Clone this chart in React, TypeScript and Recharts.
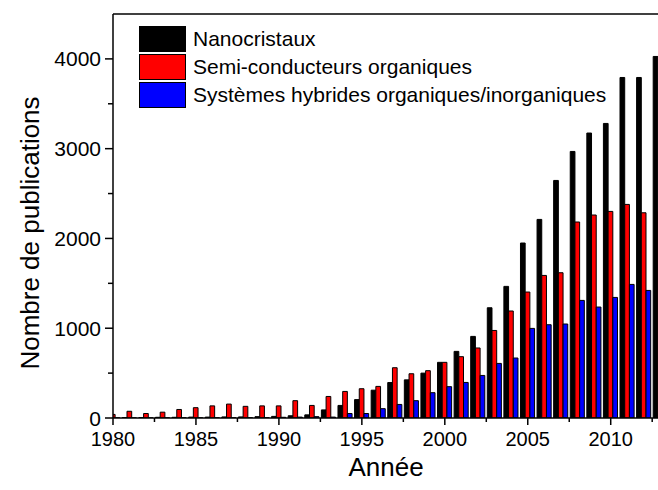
import { BarChart, Bar, XAxis, YAxis, ReferenceLine } from "recharts";

const years = [
  1980, 1981, 1982, 1983, 1984, 1985, 1986, 1987, 1988, 1989, 1990, 1991,
  1992, 1993, 1994, 1995, 1996, 1997, 1998, 1999, 2000, 2001, 2002, 2003,
  2004, 2005, 2006, 2007, 2008, 2009, 2010, 2011, 2012, 2013,
];

const nanocristaux = [
  3, 5, 5, 8, 8, 10, 10, 12, 12, 15, 18, 25, 35, 90, 140, 205, 310, 395, 425,
  500, 620, 742, 909, 1228, 1466, 1949, 2212, 2646, 2969, 3174, 3281, 3793,
  3793, 4027,
];

const semiConducteurs = [
  40, 75, 50, 65, 95, 115, 135, 155, 130, 135, 135, 193, 140, 240, 296, 326,
  352, 560, 493, 527, 620, 683, 780, 975, 1192, 1403, 1588, 1618, 2183, 2261,
  2301, 2379, 2286, 2300,
];

const hybrides = [
  1, 1, 1, 1, 2, 2, 2, 2, 3, 3, 8, 10, 15, 10, 50, 50, 104, 151, 193, 282, 349,
  396, 474, 608, 668, 998, 1039, 1047, 1310, 1236, 1343, 1488, 1421, 1450,
];

const xTicks = [
  1980, 1982.5, 1985, 1987.5, 1990, 1992.5, 1995, 1997.5, 2000, 2002.5, 2005,
  2007.5, 2010, 2012.5,
];
const yTicks = [0, 500, 1000, 1500, 2000, 2500, 3000, 3500, 4000];

const series = [
  { key: "nano", name: "Nanocristaux", color: "#000000" },
  { key: "semi", name: "Semi-conducteurs organiques", color: "#ff0000" },
  { key: "hyb", name: "Systèmes hybrides organiques/inorganiques", color: "#0000ff" },
];

const data = years.map((year, i) => ({
  year,
  nano: nanocristaux[i],
  semi: semiConducteurs[i],
  hyb: hybrides[i],
}));

const FONT = "'Liberation Sans', Arial, sans-serif";

const XTick = (props: any) => {
  const { x, y, payload } = props;
  const major = payload.value % 5 === 0;
  return (
    <g>
      <line x1={x} x2={x} y1={y} y2={y + (major ? 7 : 4)} stroke="#000" strokeWidth={1.5} />
      {major && (
        <text x={x} y={y + 21} textAnchor="middle" dominantBaseline="central"
          fontSize={20} fontFamily={FONT} fill="#000">
          {payload.value}
        </text>
      )}
    </g>
  );
};

const YTick = (props: any) => {
  const { x, y, payload } = props;
  const major = payload.value % 1000 === 0;
  return (
    <g>
      <line x1={x} x2={x - (major ? 8 : 5)} y1={y} y2={y} stroke="#000" strokeWidth={1.5} />
      {major && (
        <text x={x - 12} y={y} textAnchor="end" dominantBaseline="central"
          fontSize={21} fontFamily={FONT} fill="#000">
          {payload.value}
        </text>
      )}
    </g>
  );
};

export default function App() {
  return (
    <div style={{ position: "absolute", left: 0, top: 0, width: 658, height: 490, background: "#fff" }}>
      <BarChart
        width={658}
        height={490}
        data={data}
        margin={{ top: 14, right: 0, left: 0, bottom: 0 }}
        barGap={0}
      >
        <XAxis
          dataKey="year"
          type="number"
          domain={[1980, 2012.85]}
          allowDataOverflow
          ticks={xTicks}
          interval={0}
          height={72}
          tickSize={0}
          tickMargin={0}
          tickLine={false}
          tick={<XTick />}
          axisLine={{ stroke: "#000", strokeWidth: 1.5 }}
          label={{
            content: () => (
              <text x={386} y={467} textAnchor="middle" dominantBaseline="central"
                fontSize={26} fontFamily={FONT} fill="#000">
                Année
              </text>
            ),
          }}
        />
        <YAxis
          type="number"
          domain={[0, 4500]}
          allowDataOverflow
          ticks={yTicks}
          interval={0}
          width={113}
          tickSize={0}
          tickMargin={0}
          tickLine={false}
          tick={<YTick />}
          axisLine={{ stroke: "#000", strokeWidth: 1.5 }}
          label={{
            content: () => (
              <text x={30} y={233} textAnchor="middle" dominantBaseline="central"
                transform="rotate(-90 30 233)" fontSize={26} fontFamily={FONT} fill="#000">
                Nombre de publications
              </text>
            ),
          }}
        />
        <ReferenceLine y={4500} stroke="#000" strokeWidth={1.5} />
        {series.map((s) => (
          <Bar
            key={s.key}
            dataKey={s.key}
            name={s.name}
            fill={s.color}
            stroke="#000"
            strokeWidth={1}
            barSize={4.7}
            isAnimationActive={false}
          />
        ))}
      </BarChart>
      <div style={{ position: "absolute", left: 139, top: 25, fontFamily: FONT, fontSize: 21 }}>
        {series.map((s) => (
          <div key={s.key} style={{ display: "flex", alignItems: "center", height: 28 }}>
            <div
              style={{
                width: 45,
                height: 24,
                background: s.color,
                border: "1px solid #000",
                marginRight: 7,
              }}
            />
            <span style={{ color: "#000", lineHeight: "24px" }}>{s.name}</span>
          </div>
        ))}
      </div>
    </div>
  );
}
